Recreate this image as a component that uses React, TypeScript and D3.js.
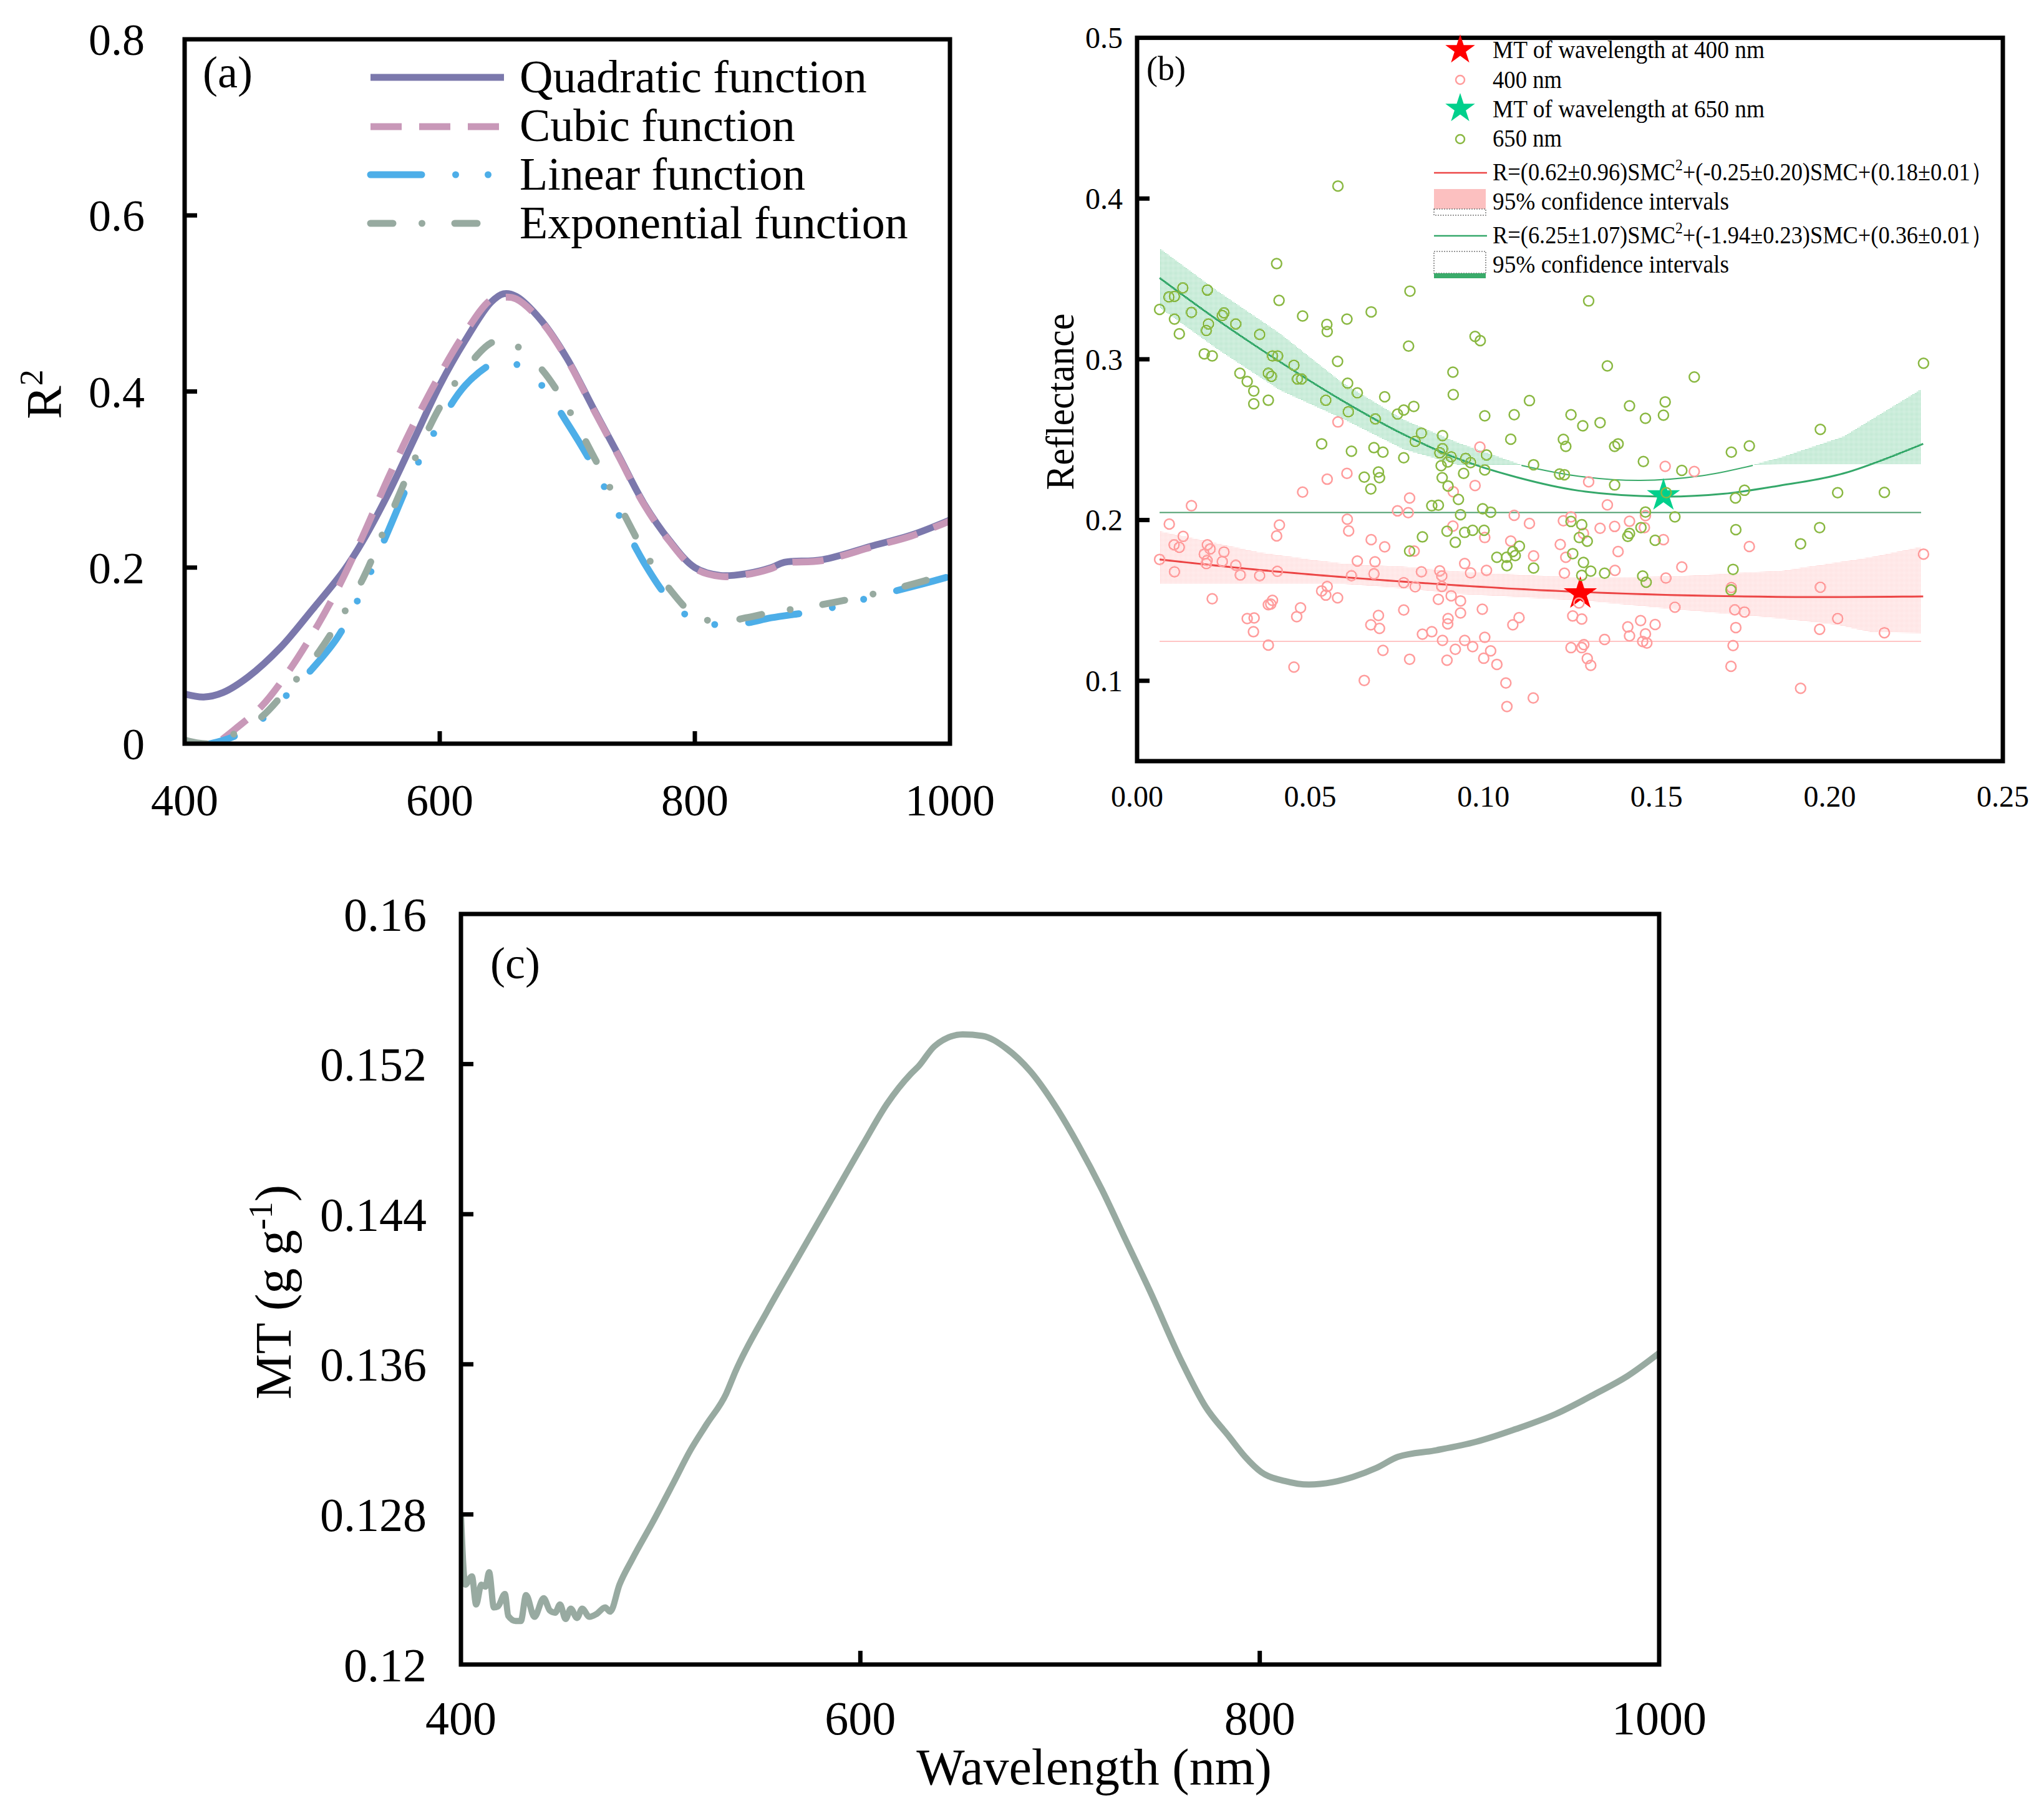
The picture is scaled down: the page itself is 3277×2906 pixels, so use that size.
import React, { useEffect } from 'react';
import * as d3 from 'd3';

const FONT = '"Liberation Serif", "Times New Roman", Times, serif';

// ---------------- Panel (a): R2 vs wavelength ----------------
const quadWave = [400, 415, 430, 450, 475, 500, 525, 540, 560, 580, 600, 620, 640, 650, 660, 680, 700, 720, 740, 760, 780, 800, 820, 840, 860, 870, 900, 940, 970, 1000];
const quadR2 = [0.0565, 0.053, 0.058, 0.076, 0.109, 0.152, 0.197, 0.231, 0.285, 0.346, 0.407, 0.458, 0.501, 0.511, 0.508, 0.48, 0.437, 0.382, 0.328, 0.273, 0.231, 0.2, 0.191, 0.193, 0.2, 0.206, 0.209, 0.225, 0.237, 0.254];
const cubicWave = [400, 420, 440, 460, 480, 500, 520, 540, 560, 580, 600, 620, 640, 650, 660, 680, 700, 720, 740, 760, 780, 800, 820, 840, 860, 870, 900, 940, 970, 1000];
const cubicR2 = [-0.03, -0.006, 0.017, 0.042, 0.079, 0.124, 0.176, 0.237, 0.303, 0.364, 0.419, 0.467, 0.504, 0.507, 0.505, 0.479, 0.436, 0.381, 0.327, 0.272, 0.23, 0.199, 0.19, 0.192, 0.199, 0.205, 0.208, 0.224, 0.236, 0.253];
const linWave = [400, 420, 440, 460, 480, 500, 520, 540, 560, 580, 600, 620, 640, 650, 660, 680, 700, 720, 740, 760, 780, 800, 820, 840, 860, 900, 940, 980, 1000];
const linR2 = [-0.004, 0.0, 0.009, 0.027, 0.055, 0.085, 0.121, 0.176, 0.243, 0.31, 0.364, 0.407, 0.431, 0.436, 0.431, 0.407, 0.364, 0.316, 0.261, 0.206, 0.164, 0.14, 0.135, 0.137, 0.143, 0.152, 0.167, 0.182, 0.19];
const expWave = [400, 420, 440, 460, 480, 500, 520, 540, 560, 580, 600, 620, 640, 650, 660, 680, 700, 720, 740, 760, 780, 800, 820, 840, 860, 900, 940, 980, 1000];
const expR2 = [0.004, 0.0, 0.012, 0.03, 0.061, 0.094, 0.137, 0.188, 0.255, 0.322, 0.382, 0.425, 0.455, 0.458, 0.452, 0.425, 0.382, 0.328, 0.273, 0.219, 0.176, 0.146, 0.138, 0.143, 0.149, 0.158, 0.17, 0.185, 0.194];
const aXTicks = [400, 600, 800, 1000];
const aYTicks = [0, 0.2, 0.4, 0.6, 0.8];
const aLegend = ['Quadratic function', 'Cubic function', 'Linear function', 'Exponential function'];

// ---------------- Panel (b): reflectance vs SMC ----------------
const pts650: [number, number][] = [
  [0.058, 0.4078], [0.0403, 0.3595], [0.0132, 0.3444], [0.0108, 0.3392], [0.0092, 0.3388], [0.0203, 0.3431], [0.041, 0.3366], [0.0065, 0.331], [0.0108, 0.325], [0.0157, 0.3292],
  [0.0251, 0.3289], [0.0246, 0.3272], [0.0285, 0.322], [0.0206, 0.322], [0.02, 0.3179], [0.0122, 0.3159], [0.0354, 0.3155], [0.0478, 0.3269], [0.0548, 0.3217], [0.0549, 0.3172],
  [0.0606, 0.325], [0.0676, 0.3295], [0.0788, 0.3424], [0.0784, 0.3082], [0.0194, 0.3034], [0.0217, 0.3021], [0.0391, 0.3021], [0.0406, 0.3021], [0.0453, 0.2963], [0.0579, 0.2987],
  [0.0297, 0.2913], [0.0318, 0.2862], [0.0379, 0.2913], [0.0388, 0.2894], [0.0463, 0.2877], [0.0475, 0.2877], [0.0337, 0.2803], [0.0337, 0.2723], [0.0379, 0.2745], [0.0608, 0.2851],
  [0.0636, 0.2791], [0.0545, 0.2745], [0.061, 0.2674], [0.0715, 0.2767], [0.0688, 0.2629], [0.0752, 0.2659], [0.077, 0.2684], [0.0799, 0.2707], [0.0912, 0.292], [0.0913, 0.278],
  [0.0821, 0.2541], [0.0803, 0.2489], [0.0882, 0.2525], [0.0882, 0.2444], [0.0874, 0.2418], [0.0907, 0.2393], [0.0897, 0.2361], [0.0878, 0.2338], [0.0881, 0.2263], [0.0898, 0.2212],
  [0.0533, 0.2474], [0.0619, 0.2428], [0.0684, 0.245], [0.071, 0.2422], [0.077, 0.2387], [0.0656, 0.2267], [0.0697, 0.2299], [0.07, 0.2263], [0.0675, 0.2193],
  [0.0851, 0.2089], [0.087, 0.2092], [0.0928, 0.2128], [0.0895, 0.193], [0.0824, 0.1895], [0.0787, 0.1807],
  [0.1304, 0.3363], [0.0976, 0.3142], [0.0991, 0.3116], [0.1358, 0.2959], [0.1609, 0.289], [0.1133, 0.2743], [0.1004, 0.2648], [0.1089, 0.2655], [0.1253, 0.2655], [0.1287, 0.2586],
  [0.1337, 0.2606], [0.1422, 0.271], [0.1468, 0.2633], [0.1525, 0.2735], [0.152, 0.2652], [0.1079, 0.2503], [0.1231, 0.2502], [0.1238, 0.2458], [0.1379, 0.2458], [0.1389, 0.2474],
  [0.1716, 0.2422], [0.1768, 0.2461], [0.1009, 0.2405], [0.0949, 0.2383], [0.0963, 0.2357], [0.1004, 0.2312], [0.0943, 0.229], [0.1145, 0.2344], [0.1462, 0.2364], [0.122, 0.2286],
  [0.1234, 0.2282], [0.1573, 0.2309], [0.1379, 0.2218], [0.1754, 0.2185], [0.1528, 0.217], [0.1728, 0.2137],
  [0.0934, 0.2033], [0.0998, 0.207], [0.1021, 0.2049], [0.1468, 0.205], [0.1553, 0.202], [0.1253, 0.1991], [0.1284, 0.1971], [0.0946, 0.1923], [0.0969, 0.1936], [0.1002, 0.1936],
  [0.0919, 0.1861], [0.1455, 0.1953], [0.1422, 0.1917], [0.1417, 0.1898], [0.1729, 0.194], [0.1277, 0.1891], [0.13, 0.1868], [0.1496, 0.1874], [0.1104, 0.1837], [0.1085, 0.1804],
  [0.1092, 0.1779], [0.1039, 0.1768], [0.1067, 0.1768], [0.1068, 0.1716], [0.1145, 0.1701], [0.1258, 0.1791], [0.1289, 0.1736], [0.131, 0.1682], [0.1284, 0.1656], [0.135, 0.1669],
  [0.146, 0.1652], [0.147, 0.1613], [0.1721, 0.1693], [0.1715, 0.1565],
  [0.2271, 0.2975], [0.1973, 0.2564], [0.2023, 0.217], [0.2158, 0.2172], [0.1971, 0.1953], [0.1916, 0.1852],
];
const pts400: [number, number][] = [
  [0.058, 0.261], [0.0606, 0.229], [0.0549, 0.2254], [0.0478, 0.2174], [0.0787, 0.2137], [0.0913, 0.2176],
  [0.0157, 0.2089], [0.0752, 0.2057], [0.0783, 0.2046], [0.0912, 0.1962], [0.0093, 0.1975], [0.0607, 0.2005], [0.0611, 0.1932], [0.0411, 0.1969], [0.0403, 0.1901], [0.0133, 0.1898],
  [0.0107, 0.1846], [0.0122, 0.183], [0.0203, 0.1846], [0.0211, 0.182], [0.0194, 0.1788], [0.0251, 0.1801], [0.0676, 0.1878], [0.0715, 0.1833], [0.08, 0.1807], [0.0065, 0.1755],
  [0.0202, 0.1749], [0.02, 0.1729], [0.0246, 0.1742], [0.0285, 0.1719], [0.0108, 0.1678], [0.0298, 0.1658], [0.0354, 0.1654], [0.0405, 0.1681], [0.0636, 0.1745], [0.0687, 0.174],
  [0.0684, 0.1665], [0.0619, 0.1654], [0.0821, 0.1678], [0.0874, 0.1684], [0.088, 0.1652], [0.088, 0.1587], [0.077, 0.161], [0.0803, 0.1585], [0.0549, 0.1587], [0.0533, 0.1559],
  [0.0545, 0.1533], [0.0579, 0.1516], [0.0217, 0.151], [0.0907, 0.1529], [0.087, 0.1506], [0.0391, 0.15], [0.0379, 0.1473], [0.0386, 0.1477], [0.0472, 0.1454], [0.0461, 0.1399],
  [0.0318, 0.1387], [0.0338, 0.1391], [0.0336, 0.1305], [0.077, 0.144], [0.0697, 0.1406], [0.0675, 0.1348], [0.07, 0.1326], [0.0898, 0.1387], [0.0897, 0.1354], [0.0824, 0.129],
  [0.0851, 0.1305], [0.0882, 0.1251], [0.0379, 0.1222], [0.071, 0.1189], [0.0787, 0.1134], [0.0895, 0.1128], [0.0453, 0.1085], [0.0656, 0.1002],
  [0.099, 0.2454], [0.1525, 0.2334], [0.1609, 0.2302], [0.1304, 0.2238], [0.0976, 0.2215],
  [0.1358, 0.2094], [0.1089, 0.2029], [0.1133, 0.1979], [0.1231, 0.1995], [0.1253, 0.202], [0.1004, 0.1891], [0.1337, 0.1949], [0.1379, 0.196], [0.1422, 0.1992], [0.1465, 0.1953],
  [0.1468, 0.2027], [0.152, 0.1878], [0.1079, 0.1869], [0.1222, 0.1848], [0.1289, 0.1917], [0.1768, 0.1835], [0.1389, 0.1804], [0.1145, 0.1777], [0.1238, 0.1768], [0.0946, 0.1729],
  [0.1573, 0.1708], [0.0963, 0.1671], [0.1009, 0.1687], [0.1234, 0.1669], [0.138, 0.1687], [0.1527, 0.1639], [0.1716, 0.158], [0.0934, 0.1497], [0.0934, 0.1422], [0.1276, 0.1484],
  [0.0997, 0.1445], [0.1258, 0.1403], [0.1284, 0.1384], [0.1103, 0.1393], [0.1085, 0.1348], [0.1553, 0.1458], [0.1726, 0.1441], [0.1754, 0.1428], [0.1454, 0.1374], [0.1417, 0.1335],
  [0.1496, 0.135], [0.1468, 0.1292], [0.1422, 0.1279], [0.146, 0.1244], [0.1472, 0.1235], [0.1729, 0.1331], [0.1004, 0.127], [0.0946, 0.1251], [0.0969, 0.1212], [0.0919, 0.1196],
  [0.1021, 0.1186], [0.1001, 0.114], [0.1039, 0.1102], [0.135, 0.1257], [0.1253, 0.1206], [0.1284, 0.1206], [0.129, 0.1225], [0.13, 0.1138], [0.131, 0.1096], [0.1721, 0.1219],
  [0.1715, 0.109], [0.1065, 0.0986], [0.1144, 0.0893], [0.1068, 0.084],
  [0.2271, 0.1788], [0.1973, 0.1582], [0.2023, 0.1387], [0.1971, 0.132], [0.2158, 0.1299], [0.1916, 0.0953],
];
const star400: [number, number] = [0.128, 0.1542];
const star650: [number, number] = [0.152, 0.2152];
const fit650X = [0.0065, 0.0233, 0.0412, 0.0591, 0.077, 0.0925, 0.1095, 0.1274, 0.1513, 0.1692, 0.1847, 0.204, 0.227];
const fit650Y = [0.3506, 0.3243, 0.2985, 0.2745, 0.2532, 0.2383, 0.2267, 0.2183, 0.2146, 0.2163, 0.2211, 0.229, 0.2474];
const fit400X = [0.0065, 0.0412, 0.0925, 0.1334, 0.1847, 0.227];
const fit400Y = [0.1755, 0.1678, 0.1594, 0.1548, 0.1522, 0.1525];
const band400X = [0.0065, 0.02, 0.035, 0.05, 0.059, 0.077, 0.0925, 0.13, 0.155, 0.186, 0.2021, 0.2117, 0.2264];
const band400Up = [0.193, 0.187, 0.18, 0.1755, 0.173, 0.171, 0.168, 0.164, 0.165, 0.1684, 0.1736, 0.1768, 0.1833];
const band400Lo = [0.1603, 0.1603, 0.1603, 0.1603, 0.1603, 0.1574, 0.154, 0.1497, 0.1445, 0.1387, 0.1348, 0.1303, 0.1296];
const band650LX = [0.0065, 0.0233, 0.0412, 0.0591, 0.077, 0.0925, 0.111];
const band650LUp = [0.369, 0.3424, 0.3162, 0.2857, 0.2624, 0.2482, 0.2344];
const band650LLo = [0.3322, 0.3062, 0.2808, 0.2633, 0.244, 0.2344, 0.2344];
const ci650MidX = [0.111, 0.1274, 0.1453, 0.1632, 0.1778];
const ci650MidY = [0.234, 0.2273, 0.2247, 0.2276, 0.234];
const band650RX = [0.1778, 0.186, 0.204, 0.2264];
const band650RUp = [0.2344, 0.239, 0.2519, 0.2813];
const band650RLo = [0.2344, 0.2347, 0.2347, 0.2347];
const hLine650 = 0.2047;
const hLine400 = 0.1245;
const hLineX = [0.0065, 0.2264];
const bXTicks = [0, 0.05, 0.1, 0.15, 0.2, 0.25];
const bYTicks = [0.1, 0.2, 0.3, 0.4, 0.5];

// ---------------- Panel (c): MT vs wavelength ----------------
const cWave = [400, 402.2, 405.5, 407.6, 410.2, 412.3, 414.1, 416.5, 418.5, 422, 423.7, 427.4, 430, 432.6, 436.8, 441.4, 444.6, 447.2, 449.6, 452.4, 455, 458.1, 460.7, 464.3, 468, 472.2, 474.7, 479.4, 485.7, 496.1, 506.5, 514.8, 523, 532.8, 537.5, 553.5, 569.4, 585.4, 601.3, 613.3, 625.3, 629.2, 637.2, 651.2, 661.2, 673.1, 685.1, 697, 709, 721, 732.9, 744.9, 760.8, 772.8, 784.7, 792.7, 800.7, 812.6, 824.6, 836.6, 846.5, 858.5, 869.3, 888.4, 908.3, 928.3, 948.2, 968.1, 984.1, 1000];
const cMT = [0.128, 0.12426, 0.1247, 0.1232, 0.12426, 0.12415, 0.12492, 0.12304, 0.12309, 0.12376, 0.12259, 0.12232, 0.12232, 0.1237, 0.12254, 0.12353, 0.12287, 0.12276, 0.1232, 0.12243, 0.12298, 0.12248, 0.12298, 0.12254, 0.1227, 0.12304, 0.12282, 0.12426, 0.1256, 0.1276, 0.1297, 0.1314, 0.1328, 0.13443, 0.13563, 0.13886, 0.14181, 0.14477, 0.14772, 0.14987, 0.15148, 0.15189, 0.15296, 0.15358, 0.1535, 0.15283, 0.15162, 0.14987, 0.14772, 0.1453, 0.14262, 0.13993, 0.13617, 0.13375, 0.13214, 0.13107, 0.13026, 0.12978, 0.12959, 0.12972, 0.12999, 0.13048, 0.13107, 0.13142, 0.13187, 0.13255, 0.13335, 0.13443, 0.13537, 0.1366];
const cXTicks = [400, 600, 800, 1000];
const cYTicks = [0.12, 0.128, 0.136, 0.144, 0.152, 0.16];

// ---------------- helpers ----------------
type Sc = d3.ScaleLinear<number, number>;
const pathOf = (xs: number[], ys: number[], sx: Sc, sy: Sc, curve: d3.CurveFactory = d3.curveCatmullRom) =>
  d3.line<[number, number]>().x((d) => sx(d[0])).y((d) => sy(d[1])).curve(curve)(d3.zip(xs, ys) as [number, number][]) || '';
const areaOf = (xs: number[], up: number[], lo: number[], sx: Sc, sy: Sc) =>
  d3.area<number>().x((_, i) => sx(xs[i])).y0((_, i) => sy(lo[i])).y1((_, i) => sy(up[i])).curve(d3.curveLinear)(xs) || '';

const FRAME = 7;
const TICK = 20;

function Frame({ sx, sy }: { sx: Sc; sy: Sc }) {
  const [x0, x1] = sx.range();
  const [y0, y1] = sy.range();
  return <rect x={Math.min(x0, x1)} y={Math.min(y0, y1)} width={Math.abs(x1 - x0)} height={Math.abs(y1 - y0)} fill="none" stroke="#000" strokeWidth={FRAME} />;
}

export default function App() {
  useEffect(() => {
    document.body.style.margin = '0';
  }, []);

  // scales
  const ax = d3.scaleLinear().domain([400, 1000]).range([296, 1523]);
  const ay = d3.scaleLinear().domain([0, 0.8]).range([1192, 63]);
  const bx = d3.scaleLinear().domain([0, 0.25]).range([1823, 3211]);
  const by = d3.scaleLinear().domain([0.05, 0.5]).range([1220, 60.6]);
  const cx = d3.scaleLinear().domain([400, 1000]).range([739, 2660]);
  const cy = d3.scaleLinear().domain([0.12, 0.16]).range([2668, 1465]);

  const aSeries = [
    { x: quadWave, y: quadR2, color: '#7b78ac', dash: undefined as string | undefined, cap: 'butt' },
    { x: cubicWave, y: cubicR2, color: '#c898b8', dash: '50 28', cap: 'butt' },
    { x: linWave, y: linR2, color: '#4daee8', dash: '82 54.5 0 52 0 54.5', cap: 'round' },
    { x: expWave, y: expR2, color: '#97aaa0', dash: '36 46.5 0 52.5', cap: 'round' },
  ];
  const aLegY = [124, 203, 280, 358];
  const aLegBase = [148, 226, 304, 382];

  const starPath = (r: number) => d3.symbol().type(d3.symbolStar).size((r * r) / 0.8908130915)() || '';

  const legB = { sx: 2341, lx0: 2299, lx1: 2384, tx: 2393 };

  return (
    <svg width={3277} height={2906} viewBox="0 0 3277 2906" style={{ display: 'block', background: '#fff' }} fontFamily={FONT}>
      <defs>
        <clipPath id="clipA">
          <rect x={296} y={63} width={1227} height={1129} />
        </clipPath>
        <clipPath id="clipC">
          <rect x={739} y={1465} width={1921} height={1203} />
        </clipPath>
        <pattern id="gdots" width={2} height={2} patternUnits="userSpaceOnUse">
          <rect width={1} height={1} fill="#2fb56c" />
        </pattern>
        <pattern id="rdots" width={2} height={2} patternUnits="userSpaceOnUse">
          <rect width={1} height={1} fill="#ffa4a4" />
        </pattern>
      </defs>
      <rect width={3277} height={2906} fill="#fff" />

      {/* ================= Panel (a) ================= */}
      <g clipPath="url(#clipA)">
        {aSeries.map((s, i) => (
          <path key={i} d={pathOf(s.x, s.y, ax, ay)} fill="none" stroke={s.color} strokeWidth={11} strokeDasharray={s.dash} strokeLinecap={s.cap as any} strokeLinejoin="round" />
        ))}
      </g>
      <Frame sx={ax} sy={ay} />
      {aYTicks.slice(1, -1).map((t) => (
        <line key={t} x1={ax(400)} x2={ax(400) + TICK} y1={ay(t)} y2={ay(t)} stroke="#000" strokeWidth={FRAME} />
      ))}
      {aXTicks.slice(1, -1).map((t) => (
        <line key={t} x1={ax(t)} x2={ax(t)} y1={ay(0)} y2={ay(0) - TICK} stroke="#000" strokeWidth={FRAME} />
      ))}
      {aYTicks.map((t) => (
        <text key={t} x={232} y={ay(t)} dy="0.35em" textAnchor="end" fontSize={72}>{d3.format('~g')(t)}</text>
      ))}
      {aXTicks.map((t) => (
        <text key={t} x={ax(t)} y={1307} textAnchor="middle" fontSize={72}>{t}</text>
      ))}
      <text transform="translate(98,632) rotate(-90)" textAnchor="middle" fontSize={80}>
        R<tspan dy={-30} fontSize={52}>2</tspan>
      </text>
      <text x={325} y={140} fontSize={72}>(a)</text>
      {aSeries.map((s, i) => (
        <g key={i}>
          <line x1={594} x2={808} y1={aLegY[i]} y2={aLegY[i]} stroke={s.color} strokeWidth={11} strokeDasharray={s.dash} strokeLinecap={s.cap as any} />
          <text x={833} y={aLegBase[i]} fontSize={74}>{aLegend[i]}</text>
        </g>
      ))}

      {/* ================= Panel (b) ================= */}
      <path d={areaOf(band400X, band400Up, band400Lo, bx, by)} fill="url(#rdots)" />
      <path d={areaOf(band650LX, band650LUp, band650LLo, bx, by)} fill="url(#gdots)" />
      <path d={areaOf(band650RX, band650RUp, band650RLo, bx, by)} fill="url(#gdots)" />
      <path d={pathOf(ci650MidX, ci650MidY, bx, by)} fill="none" stroke="#3aaa6a" strokeWidth={2} />
      <line x1={bx(hLineX[0])} x2={bx(hLineX[1])} y1={by(hLine650)} y2={by(hLine650)} stroke="#4a9d6c" strokeWidth={2} />
      <line x1={bx(hLineX[0])} x2={bx(hLineX[1])} y1={by(hLine400)} y2={by(hLine400)} stroke="#ffc4c4" strokeWidth={2} />
      <path d={pathOf(fit400X, fit400Y, bx, by)} fill="none" stroke="#ec4646" strokeWidth={3} />
      <path d={pathOf(fit650X, fit650Y, bx, by)} fill="none" stroke="#35a86a" strokeWidth={3} />
      <path d={starPath(28)} transform={`translate(${bx(star400[0])},${by(star400[1])})`} fill="#ff0000" />
      <path d={starPath(28)} transform={`translate(${bx(star650[0])},${by(star650[1])})`} fill="#00d08c" />
      {pts400.map((p, i) => (
        <circle key={'r' + i} cx={bx(p[0])} cy={by(p[1])} r={8} fill="none" stroke="#ff9c9c" strokeWidth={2.5} />
      ))}
      {pts650.map((p, i) => (
        <circle key={'g' + i} cx={bx(p[0])} cy={by(p[1])} r={8} fill="none" stroke="#8ab842" strokeWidth={2.5} />
      ))}
      <Frame sx={bx} sy={by} />
      {bYTicks.slice(0, -1).map((t) => (
        <line key={t} x1={bx(0)} x2={bx(0) + TICK} y1={by(t)} y2={by(t)} stroke="#000" strokeWidth={FRAME} />
      ))}
      {bYTicks.map((t) => (
        <text key={t} x={1800} y={by(t)} dy="0.35em" textAnchor="end" fontSize={48}>{d3.format('.1f')(t)}</text>
      ))}
      {bXTicks.map((t) => (
        <text key={t} x={bx(t)} y={1293} textAnchor="middle" fontSize={48}>{d3.format('.2f')(t)}</text>
      ))}
      <text transform="translate(1721,644) rotate(-90)" textAnchor="middle" fontSize={64} textLength={283} lengthAdjust="spacingAndGlyphs">Reflectance</text>
      <text x={1838} y={128} fontSize={54}>(b)</text>

      {/* legend (b) */}
      <path d={starPath(25)} transform={`translate(${legB.sx},80)`} fill="#ff0000" />
      <text x={legB.tx} y={93} fontSize={40} textLength={436} lengthAdjust="spacingAndGlyphs">MT of wavelength at 400 nm</text>
      <circle cx={legB.sx} cy={128} r={7} fill="none" stroke="#ff9c9c" strokeWidth={2.5} />
      <text x={legB.tx} y={141} fontSize={40} textLength={111} lengthAdjust="spacingAndGlyphs">400 nm</text>
      <path d={starPath(25)} transform={`translate(${legB.sx},174)`} fill="#00d08c" />
      <text x={legB.tx} y={188} fontSize={40} textLength={436} lengthAdjust="spacingAndGlyphs">MT of wavelength at 650 nm</text>
      <circle cx={legB.sx} cy={223} r={7} fill="none" stroke="#8ab842" strokeWidth={2.5} />
      <text x={legB.tx} y={235} fontSize={40} textLength={111} lengthAdjust="spacingAndGlyphs">650 nm</text>
      <line x1={legB.lx0} x2={legB.lx1} y1={277} y2={277} stroke="#ec4646" strokeWidth={2.5} />
      <text x={legB.tx} y={289} fontSize={40} textLength={802} lengthAdjust="spacingAndGlyphs">
        R=(0.62±0.96)SMC<tspan dy={-16} fontSize={26}>2</tspan><tspan dy={16}>+(-0.25±0.20)SMC+(0.18±0.01）</tspan>
      </text>
      <rect x={legB.lx0} y={303} width={legB.lx1 - legB.lx0 - 2} height={32} fill="#fcc0c0" />
      <rect x={legB.lx0} y={335} width={legB.lx1 - legB.lx0 - 2} height={10} fill="none" stroke="#777" strokeWidth={1.5} strokeDasharray="2 2" />
      <text x={legB.tx} y={336} fontSize={40} textLength={379} lengthAdjust="spacingAndGlyphs">95% confidence intervals</text>
      <line x1={legB.lx0} x2={legB.lx1} y1={378} y2={378} stroke="#35a86a" strokeWidth={2.5} />
      <text x={legB.tx} y={390} fontSize={40} textLength={802} lengthAdjust="spacingAndGlyphs">
        R=(6.25±1.07)SMC<tspan dy={-16} fontSize={26}>2</tspan><tspan dy={16}>+(-1.94±0.23)SMC+(0.36±0.01）</tspan>
      </text>
      <rect x={legB.lx0} y={403} width={legB.lx1 - legB.lx0 - 2} height={35} fill="none" stroke="#777" strokeWidth={1.5} strokeDasharray="2 2" />
      <rect x={legB.lx0} y={438} width={legB.lx1 - legB.lx0 - 2} height={8} fill="#3aab6a" />
      <text x={legB.tx} y={437} fontSize={40} textLength={379} lengthAdjust="spacingAndGlyphs">95% confidence intervals</text>

      {/* ================= Panel (c) ================= */}
      <g clipPath="url(#clipC)">
        <path d={pathOf(cWave, cMT, cx, cy, d3.curveMonotoneX)} fill="none" stroke="#98aaa1" strokeWidth={10} strokeLinejoin="round" strokeLinecap="round" />
      </g>
      <Frame sx={cx} sy={cy} />
      {cYTicks.slice(1, -1).map((t) => (
        <line key={t} x1={cx(400)} x2={cx(400) + TICK} y1={cy(t)} y2={cy(t)} stroke="#000" strokeWidth={FRAME} />
      ))}
      {cXTicks.slice(1, -1).map((t) => (
        <line key={t} x1={cx(t)} x2={cx(t)} y1={cy(0.12)} y2={cy(0.12) - TICK - 2} stroke="#000" strokeWidth={FRAME} />
      ))}
      {cYTicks.map((t) => (
        <text key={t} x={684} y={cy(t)} dy="0.35em" textAnchor="end" fontSize={76}>{d3.format('~g')(t)}</text>
      ))}
      {cXTicks.map((t) => (
        <text key={t} x={cx(t)} y={2780} textAnchor="middle" fontSize={76}>{t}</text>
      ))}
      <text x={786} y={1568} fontSize={72}>(c)</text>
      <text transform="translate(466,2071) rotate(-90)" textAnchor="middle" fontSize={82}>
        MT (g g<tspan dy={-30} fontSize={54}>-1</tspan><tspan dy={30}>)</tspan>
      </text>
      <text x={1754} y={2860} textAnchor="middle" fontSize={82}>Wavelength (nm)</text>
    </svg>
  );
}
